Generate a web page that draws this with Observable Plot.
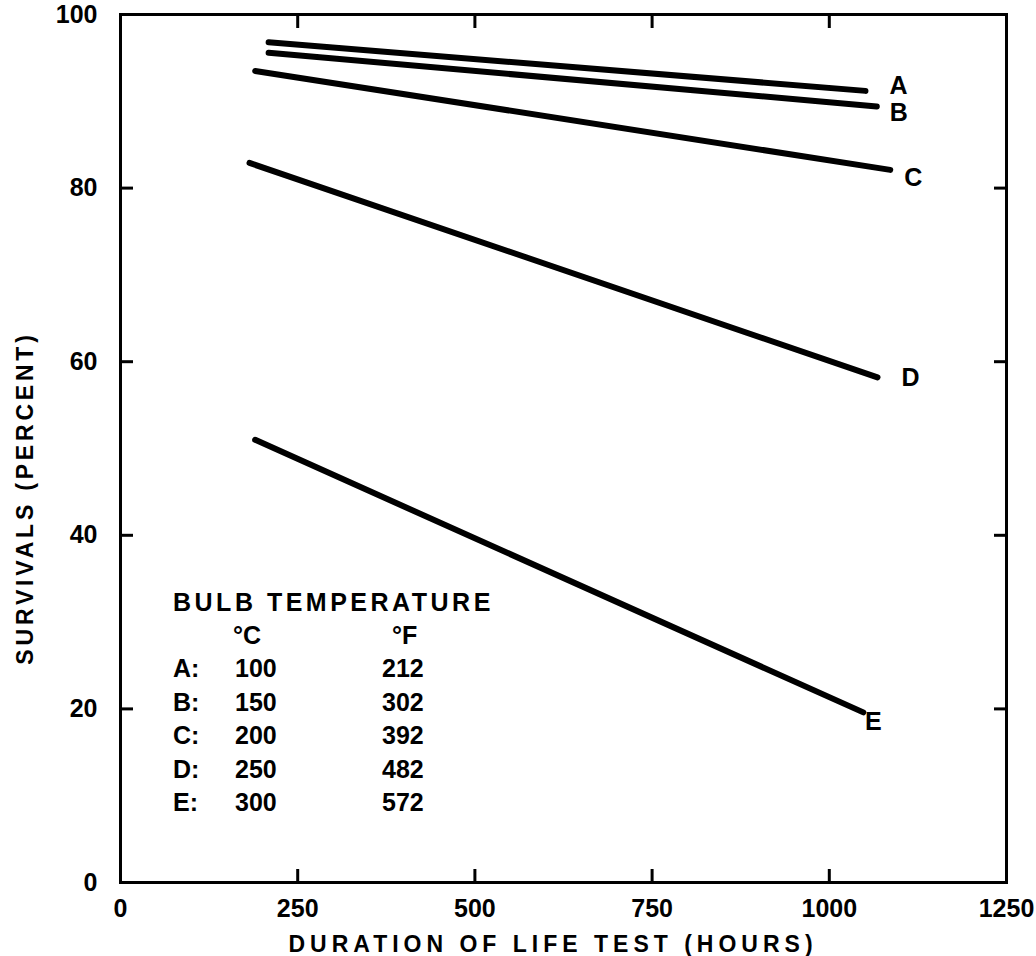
<!DOCTYPE html>
<html><head><meta charset="utf-8">
<script src="https://cdn.jsdelivr.net/npm/d3@7"></script>
<script src="https://cdn.jsdelivr.net/npm/@observablehq/plot@0.6"></script>
<style>
html,body{margin:0;padding:0;background:#fff;}
#chart svg{display:block;}
</style>
</head><body><div id="chart"></div>
<script>
// ---- data ----
const series = ["A", "B", "C", "D", "E"];
const startHours = [209, 209, 190, 182, 190];
const endHours = [1051, 1067, 1086, 1068, 1048];
const startSurvival = [96.8, 95.6, 93.5, 82.9, 51.0];
const endSurvival = [91.2, 89.4, 82.1, 58.2, 19.6];
const xTicks = [0, 250, 500, 750, 1000, 1250];
const yTicks = [0, 20, 40, 60, 80, 100];
const legendTitle = "BULB TEMPERATURE";
const legendCelsius = ["100", "150", "200", "250", "300"];
const legendFahrenheit = ["212", "302", "392", "482", "572"];
const xTitle = "DURATION OF LIFE TEST (HOURS)";
const yTitle = "SURVIVALS (PERCENT)";

// ---- styling ----
const labelOffsets = {A: [33, -5], B: [22, 6], C: [23, 8], D: [33, 1], E: [10, 10]};
const FONT = "'Liberation Sans', Arial, sans-serif";

const lineData = series.flatMap((s, i) => [
  {s, h: startHours[i], p: startSurvival[i]},
  {s, h: endHours[i], p: endSurvival[i]}
]);
const ends = series.map((s, i) => ({s, h: endHours[i], p: endSurvival[i]}));

const svg = Plot.plot({
  width: 1036,
  height: 956,
  marginLeft: 120,
  marginRight: 30,
  marginTop: 14,
  marginBottom: 74,
  style: {fontFamily: FONT, fontSize: "25px", fontWeight: "bold", background: "white", color: "black"},
  x: {domain: [0, 1250]},
  y: {domain: [0, 100]},
  marks: [
    Plot.frame({stroke: "black", strokeWidth: 3}),
    Plot.axisX(xTicks, {anchor: "bottom", tickSize: -13, tickPadding: 30, strokeWidth: 3, label: null, fontSize: 25, tickFormat: d => String(d)}),
    Plot.axisX(xTicks, {anchor: "top", tickSize: -13, strokeWidth: 3, label: null, tickFormat: () => ""}),
    Plot.axisY(yTicks, {anchor: "left", tickSize: -13, tickPadding: 36, strokeWidth: 3, label: null, fontSize: 25, tickFormat: d => String(d)}),
    Plot.axisY(yTicks, {anchor: "right", tickSize: -13, strokeWidth: 3, label: null, tickFormat: () => ""}),
    Plot.line(lineData, {x: "h", y: "p", z: "s", stroke: "black", strokeWidth: 6, strokeLinecap: "round"}),
    ...series.map(s => Plot.text(ends.filter(d => d.s === s), {
      x: "h", y: "p", text: "s",
      dx: labelOffsets[s][0], dy: labelOffsets[s][1],
      fill: "black", fontSize: 25, fontWeight: "bold"
    }))
  ]
});

document.getElementById("chart").appendChild(svg);

const root = d3.select(svg);
// axis titles
root.append("text")
  .attr("x", 553).attr("y", 952)
  .attr("text-anchor", "middle")
  .style("font-family", FONT).style("font-size", "23px").style("font-weight", "bold")
  .style("letter-spacing", "5px")
  .attr("fill", "black")
  .text(xTitle);

root.append("text")
  .attr("transform", "translate(33,498) rotate(-90)")
  .attr("text-anchor", "middle")
  .style("font-family", FONT).style("font-size", "23px").style("font-weight", "bold")
  .style("letter-spacing", "3.8px")
  .attr("fill", "black")
  .text(yTitle);

// legend
const lg = root.append("g")
  .attr("text-anchor", "start")
  .style("font-family", FONT).style("font-size", "25px").style("font-weight", "bold")
  .attr("fill", "black");
lg.append("text").attr("x", 173).attr("y", 611).style("letter-spacing", "3.5px").text(legendTitle);
lg.append("text").attr("x", 233).attr("y", 644).text("°C");
lg.append("text").attr("x", 392).attr("y", 644).text("°F");
series.forEach((s, i) => {
  const y = 677 + i * 33.5;
  lg.append("text").attr("x", 173).attr("y", y).text(s + ":");
  lg.append("text").attr("x", 235).attr("y", y).text(legendCelsius[i]);
  lg.append("text").attr("x", 382).attr("y", y).text(legendFahrenheit[i]);
});
</script>
</body></html>
